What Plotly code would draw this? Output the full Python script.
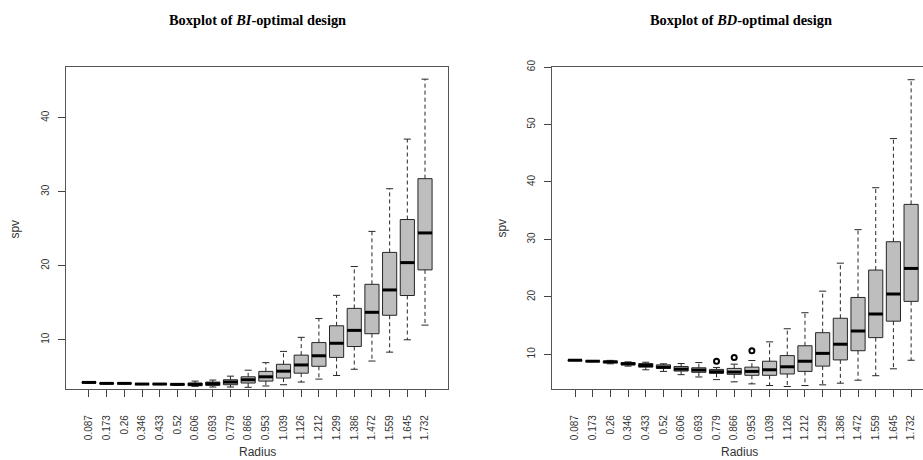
import plotly.graph_objects as go

radius = ["0.087", "0.173", "0.26", "0.346", "0.433", "0.52", "0.606", "0.693", "0.779", "0.866",
          "0.953", "1.039", "1.126", "1.212", "1.299", "1.386", "1.472", "1.559", "1.645", "1.732"]

# BI-optimal design (left panel)
bi_lo  = [4.15, 4.05, 4.05, 3.96, 3.95, 3.85, 3.71, 3.62, 3.62, 3.58,
          3.76, 3.93, 4.29, 4.69, 5.18, 6.02, 7.13, 8.33, 10.0, 11.98]
bi_q1  = [4.20, 4.08, 4.08, 3.99, 3.99, 3.90, 3.80, 3.84, 3.93, 4.16,
          4.42, 4.83, 5.49, 6.42, 7.62, 9.09, 10.82, 13.31, 15.98, 19.44]
bi_med = [4.24, 4.11, 4.11, 4.02, 4.02, 3.98, 3.98, 4.07, 4.29, 4.60,
          5.00, 5.76, 6.60, 7.84, 9.53, 11.27, 13.71, 16.73, 20.42, 24.43]
bi_q3  = [4.28, 4.14, 4.14, 4.05, 4.05, 4.04, 4.16, 4.29, 4.60, 5.00,
          5.73, 6.69, 7.93, 9.62, 11.89, 14.24, 17.49, 21.80, 26.24, 31.76]
bi_hi  = [4.32, 4.17, 4.17, 4.08, 4.08, 4.08, 4.42, 4.56, 5.09, 5.89,
          6.91, 8.43, 10.33, 12.87, 16.0, 19.89, 24.64, 30.4, 37.1, 45.2]
bi_out_idx = []
bi_out_val = []

# BD-optimal design (right panel)
bd_lo  = [8.90, 8.74, 8.35, 7.95, 7.31, 7.03, 6.46, 6.06, 5.60, 5.21,
          4.86, 4.57, 4.40, 4.57, 4.69, 4.98, 5.50, 6.28, 7.48, 8.97]
bd_q1  = [8.93, 8.77, 8.51, 8.17, 7.77, 7.55, 7.09, 6.87, 6.69, 6.52,
          6.35, 6.35, 6.58, 7.03, 7.95, 9.03, 10.63, 12.91, 15.77, 19.22]
bd_med = [8.97, 8.80, 8.69, 8.35, 8.06, 7.77, 7.43, 7.26, 6.97, 6.92,
          7.03, 7.31, 7.83, 8.80, 10.17, 11.76, 14.06, 17.02, 20.50, 24.95]
bd_q3  = [9.01, 8.83, 8.83, 8.57, 8.40, 8.17, 7.89, 7.66, 7.38, 7.55,
          7.77, 8.80, 9.78, 11.49, 13.77, 16.28, 19.90, 24.67, 29.60, 36.10]
bd_hi  = [9.04, 8.86, 8.95, 8.69, 8.63, 8.35, 8.40, 8.57, 7.72, 8.29,
          8.92, 12.17, 14.45, 17.24, 21.0, 25.87, 31.7, 39.0, 47.55, 57.8]
bd_out_idx = [9, 10, 11]
bd_out_val = [8.8, 9.43, 10.63]

W, H = 923, 460
BOX_HALF = 0.4
CAP_HALF = 0.2
EDGE = "#262626"
FILL = "#BEBEBE"
FONT = "Liberation Sans, Arial, sans-serif"

fig = go.Figure()


def add_panel(xa, ya, lo, q1, med, q3, hi, out_idx, out_val):
    pos = list(range(1, len(radius) + 1))
    # dashed whiskers
    wx, wy = [], []
    for p, a, b, c, d in zip(pos, lo, q1, q3, hi):
        wx += [p, p, None, p, p, None]
        wy += [c, d, None, b, a, None]
    fig.add_trace(go.Scatter(x=wx, y=wy, mode="lines", xaxis=xa, yaxis=ya,
                             line=dict(color=EDGE, width=1, dash="4px,3px"),
                             hoverinfo="skip", showlegend=False))
    # staples
    cx, cy = [], []
    for p, a, d in zip(pos, lo, hi):
        cx += [p - CAP_HALF, p + CAP_HALF, None, p - CAP_HALF, p + CAP_HALF, None]
        cy += [d, d, None, a, a, None]
    fig.add_trace(go.Scatter(x=cx, y=cy, mode="lines", xaxis=xa, yaxis=ya,
                             line=dict(color=EDGE, width=1),
                             hoverinfo="skip", showlegend=False))
    # boxes
    fig.add_trace(go.Box(x=pos, q1=q1, median=med, q3=q3, lowerfence=q1, upperfence=q3,
                         width=2 * BOX_HALF, fillcolor=FILL, line=dict(color=EDGE, width=1),
                         whiskerwidth=0, boxpoints=False, xaxis=xa, yaxis=ya,
                         hoverinfo="skip", showlegend=False))
    # thick medians
    mx, my = [], []
    for p, m in zip(pos, med):
        mx += [p - BOX_HALF, p + BOX_HALF, None]
        my += [m, m, None]
    fig.add_trace(go.Scatter(x=mx, y=my, mode="lines", xaxis=xa, yaxis=ya,
                             line=dict(color="black", width=3),
                             hoverinfo="skip", showlegend=False))
    if out_idx:
        fig.add_trace(go.Scatter(x=out_idx, y=out_val, mode="markers", xaxis=xa, yaxis=ya,
                                 marker=dict(symbol="circle-open", size=5, color="black",
                                             line=dict(width=2)),
                                 hoverinfo="skip", showlegend=False))


add_panel("x", "y", bi_lo, bi_q1, bi_med, bi_q3, bi_hi, bi_out_idx, bi_out_val)
add_panel("x2", "y2", bd_lo, bd_q1, bd_med, bd_q3, bd_hi, bd_out_idx, bd_out_val)

y_dom = [1 - 388 / H, 1 - 61 / H]
pos = list(range(1, len(radius) + 1))

xcommon = dict(tickmode="array", tickvals=pos, ticktext=radius, tickangle=-90,
               ticks="outside", ticklen=7, tickcolor="#444", showline=True, linecolor="#555",
               linewidth=1, showgrid=False, zeroline=False, ticklabelstandoff=14,
               tickfont=dict(family=FONT, size=10, color="#333"))
ycommon = dict(ticks="outside", ticklen=7, tickcolor="#444", showline=True, linecolor="#555",
               linewidth=1, showgrid=False, zeroline=False, tickangle=-90, ticklabelstandoff=5,
               tickfont=dict(family=FONT, size=10, color="#333"))

fig.update_layout(
    width=W, height=H, margin=dict(l=0, r=0, t=0, b=0),
    paper_bgcolor="white", plot_bgcolor="white", showlegend=False,
    xaxis=dict(domain=[66 / W, 448 / W], range=[-0.3, 21.3], mirror=True, anchor="y", **xcommon),
    yaxis=dict(domain=y_dom, range=[3.34, 46.83], tickvals=[10, 20, 30, 40], mirror=True,
               anchor="x", **ycommon),
    xaxis2=dict(domain=[552 / W, 1.0], range=[-0.3, -0.3 + (923 - 552) / 17.69], mirror=True,
                anchor="y2", **xcommon),
    yaxis2=dict(domain=y_dom, range=[3.95, 60.0], tickvals=[10, 20, 30, 40, 50, 60],
                mirror=False, anchor="x2", **ycommon),
)

annots = [
    dict(text="<b>Boxplot of <i>BI</i>-optimal design</b>", x=257 / W, y=1 - 13 / H),
    dict(text="<b>Boxplot of <i>BD</i>-optimal design</b>", x=741 / W, y=1 - 13 / H),
]
for a in annots:
    fig.add_annotation(xref="paper", yref="paper", x=a["x"], y=a["y"], text=a["text"],
                       showarrow=False, xanchor="center", yanchor="middle",
                       font=dict(family="Liberation Serif, Times New Roman, serif", size=14.4,
                                 color="black"))

for xc, txt in [(257, "Radius"), (739, "Radius")]:
    fig.add_annotation(xref="paper", yref="paper", x=xc / W, y=1 - 452 / H, text=txt,
                       showarrow=False, xanchor="center", yanchor="middle",
                       font=dict(family=FONT, size=12, color="#333"))
for xc in [15, 502]:
    fig.add_annotation(xref="paper", yref="paper", x=xc / W, y=1 - 225 / H, text="spv",
                       textangle=-90, showarrow=False, xanchor="center", yanchor="middle",
                       font=dict(family=FONT, size=12, color="#333"))

fig.write_html("out.html")
